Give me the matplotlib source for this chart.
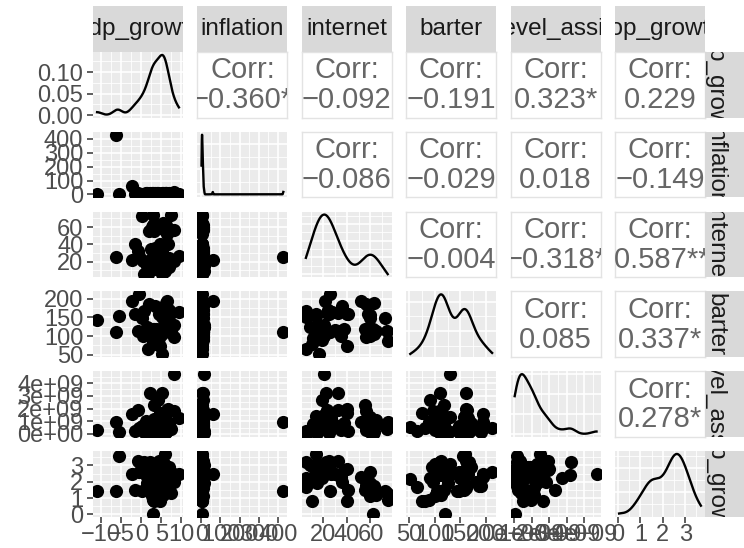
import numpy as np
import matplotlib
matplotlib.use("Agg")
import matplotlib.pyplot as plt
from matplotlib.ticker import MaxNLocator

plt.rcParams['font.family'] = ['Liberation Sans', 'DejaVu Sans']

nan = np.nan
var_names = ["gdp_growth", "inflation", "internet", "barter", "devel_assist", "pop_growth"]

gdp_growth = [-11.0, -6.2, -5.5, -2.4, 3.0, 8.3, 2.2, 5.1, 5.9, -0.8, 9.4, 0.1, 3.0, 6.3, 6.5,
              8.3, 5.1, -0.5, 4.5, 5.2, 3.8, 6.0, 4.9, 2.5, 5.6, 7.0, 1.5, 1.6, 5.1, 4.0,
              6.8, 3.4, 4.6, 0.8, 5.4, 7.5, 2.0, 6.2, 4.2, 3.1, 5.8, 4.4, -1.6, 2.8,
              3.2, 5.3, 2.4, 5.5, 3.6, 6.4, 1.2, 5.7, 2.9, 0.5, 6.9, 3.3]
inflation = [1, 428, 2, 60, 5, 15, 8, 4, 6, 10, 5, 3, 2, 7, 3,
             9, 4, 3, 3, 8, 5, 12, 2, 6, 4, 9, 14, 3, 5, 7,
             2, 10, 4, 6, 3, 1, 5, 8, 11, 2, 6, 4, 5, 9,
             3, 6, 2, 8, 5, 4, 7, 3, 10, 2, 6, 4]
internet = [nan, 25.5, nan, 22, 62, 21, 22.5, 32.5, 14, 32.5, 27, 72.6, 74.5, 62.7, 52,
            56.6, 16.3, 26, 12, 18, 20, 9, 28, 35, 15, 24, 15, 6, 6, 30,
            40, 36, 40, 5.6, 65, 73.7, 56, 59.6, 19, 11, 38, 25, 41, 60,
            20, 22, 17, 58, 63, 23, 19, 60, 25, 21, 14, 55]
barter = [144, 111, 155, 195, 120, 130, 110, 161, 159, 113, 164, 148, 88, 190, 194,
          97, 52, 212, 95, 105, 120, 125, 165, 100, 130, 170, 125, 65, 150, 115,
          160, 180, 74, 167, 113, 113, 186, 148, 90, 80, 118, 160, 158, 100,
          108, 115, 118, 160, 105, 162, 112, 157, 110, 100, 155, 118]
devel_assist = [0.31e9, 0.97e9, 0.18e9, 1.6e9, 0.02e9, 4.7e9, 3.25e9, 3.2e9, 1.45e9, 1.9e9,
                1.23e9, 0.6e9, 0.94e9, 0.15e9, 0.94e9, 1.8e9, 0.57e9, 0.5e9, 0.8e9, 0.4e9,
                1.1e9, 0.2e9, 0.6e9, 0.3e9, 1.3e9, 0.9e9, 0.1e9, 0.25e9, 0.05e9, 0.7e9,
                2.0e9, 0.45e9, 1.64e9, 0.15e9, 1.1e9, 0.4e9, 0.3e9, 0.15e9, 2.7e9, 0.5e9,
                0.9e9, 0.35e9, 0.2e9, 0.6e9,
                1.2e9, 1.5e9, 0.8e9, 1.1e9, 0.7e9, 1.9e9, 1.0e9, 1.3e9, 0.05e9, 0.4e9,
                0.6e9, 2.3e9]
pop_growth = [1.42, 1.42, 3.57, 2.45, 0.05, 2.5, 3.2, 2.4, 3.7, 3.25, 2.5, 1.4, 0.9, 1.74, 2.3,
              2.0, 2.17, 2.6, 2.9, 2.8, 2.7, 3.0, 2.6, 2.3, 3.1, 2.9, 1.9, 1.7, 2.2, 2.5,
              2.8, 2.0, 0.8, 3.2, 1.2, 1.3, 1.74, 2.6, 2.2, 0.83, 2.7, 3.3, 1.5, 1.1,
              2.9, 3.0, 2.6, 1.6, 1.4, 2.7, 2.4, 1.9, 2.8, 3.1, 2.5, 1.5]

columns = [gdp_growth, inflation, internet, barter, devel_assist, pop_growth]

# axis breaks (tick labels) per variable
breaks = [[-10, -5, 0, 5, 10],
          [0, 100, 200, 300, 400],
          [20, 40, 60],
          [50, 100, 150, 200],
          [0, 1e9, 2e9, 3e9, 4e9],
          [0, 1, 2, 3]]
break_labels = [["\u221210", "\u22125", "0", "5", "10"],
                ["0", "100", "200", "300", "400"],
                ["20", "40", "60"],
                ["50", "100", "150", "200"],
                ["0e+00", "1e+09", "2e+09", "3e+09", "4e+09"],
                ["0", "1", "2", "3"]]

# correlation labels (upper triangle)
corr_labels = {(0, 1): "\u22120.360*", (0, 2): "\u22120.092", (0, 3): "\u22120.191",
               (0, 4): "0.323*", (0, 5): "0.229",
               (1, 2): "\u22120.086", (1, 3): "\u22120.029", (1, 4): "0.018", (1, 5): "\u22120.149",
               (2, 3): "\u22120.004", (2, 4): "\u22120.318*", (2, 5): "\u22120.587***",
               (3, 4): "0.085", (3, 5): "0.337*",
               (4, 5): "0.278*"}

W, H = 744, 548
fig = plt.figure(figsize=(W / 100, H / 100), dpi=100)

col_left = [93 + 104.4 * j for j in range(6)]
pw = 90
row_top = [52 + 79.8 * i for i in range(6)]
ph = 65.5

PANEL = '#EBEBEB'
STRIP = '#D9D9D9'
TICKC = '#333333'
LABC = '#4D4D4D'
TICK_FS = 17
STRIP_FS = 17.5
CORR_FS = 21


def rect(x, y, w, h):
    return [x / W, 1 - (y + h) / H, w / W, h / H]


def lims(a):
    a = a[~np.isnan(a)]
    lo, hi = a.min(), a.max()
    r = hi - lo
    return lo - 0.05 * r, hi + 0.05 * r


def kde(v):
    a = np.asarray(v, float)
    a = a[~np.isnan(a)]
    n = len(a)
    sd = a.std(ddof=1)
    q75, q25 = np.percentile(a, [75, 25])
    lo = min(sd, (q75 - q25) / 1.34)
    if lo <= 0:
        lo = sd
    bw = 0.9 * lo * n ** -0.2
    xs = np.linspace(a.min(), a.max(), 512)
    d = np.exp(-0.5 * ((xs[:, None] - a[None, :]) / bw) ** 2).sum(1) / (n * bw * np.sqrt(2 * np.pi))
    return xs, d


def minor_breaks(b, lim):
    b = list(b)
    step = b[1] - b[0]
    ext = np.arange(b[0] - step, b[-1] + step * 1.01, step / 2.0)
    out = []
    for v in ext:
        if lim[0] <= v <= lim[1] and not any(abs(v - m) < 1e-9 * max(1, abs(step)) for m in b):
            out.append(v)
    return out


def grid(ax, xb, xl, yb, yl):
    for v in minor_breaks(xb, xl):
        ax.axvline(v, color='white', lw=0.6, zorder=0.5)
    for v in minor_breaks(yb, yl):
        ax.axhline(v, color='white', lw=0.6, zorder=0.5)
    for v in xb:
        if xl[0] <= v <= xl[1]:
            ax.axvline(v, color='white', lw=1.2, zorder=0.6)
    for v in yb:
        if yl[0] <= v <= yl[1]:
            ax.axhline(v, color='white', lw=1.2, zorder=0.6)


data = [np.asarray(c, float) for c in columns]
xlims = [lims(a) for a in data]

for i in range(6):
    for j in range(6):
        ax = fig.add_axes(rect(col_left[j], row_top[i], pw, ph))
        for s in ax.spines.values():
            s.set_visible(False)
        ax.tick_params(which='both', length=0, labelleft=False, labelbottom=False)
        yb_show = None
        if i < j:
            ax.set_facecolor('white')
            for s in ax.spines.values():
                s.set_visible(True)
                s.set_color('#E3E3E3')
                s.set_linewidth(1.0)
            ax.set_xticks([])
            ax.set_yticks([])
            ax.text(0.5, 0.72, "Corr:", transform=ax.transAxes, ha='center', va='center',
                    fontsize=CORR_FS, color='#666666', clip_on=True)
            ax.text(0.5, 0.265, corr_labels[(i, j)], transform=ax.transAxes, ha='center',
                    va='center', fontsize=CORR_FS, color='#666666', clip_on=True)
        elif i == j:
            ax.set_facecolor(PANEL)
            xs, d = kde(data[j])
            ax.plot(xs, d, color='black', lw=1.7, zorder=3)
            xl = xlims[j]
            yl = (d.min() - 0.05 * (d.max() - d.min()), d.max() + 0.05 * (d.max() - d.min()))
            ax.set_xlim(xl)
            ax.set_ylim(yl)
            loc = MaxNLocator(nbins=4, steps=[1, 2, 2.5, 5, 10])
            yb = [v for v in loc.tick_values(yl[0], yl[1]) if yl[0] <= v <= yl[1]]
            grid(ax, breaks[j], xl, yb, yl)
            yb_show = yb
        else:
            ax.set_facecolor(PANEL)
            x = data[j]
            y = data[i]
            m = ~np.isnan(x) & ~np.isnan(y)
            ax.scatter(x[m], y[m], s=90, c='black', linewidths=0, zorder=3)
            ax.set_xlim(xlims[j])
            ax.set_ylim(xlims[i])
            grid(ax, breaks[j], xlims[j], breaks[i], xlims[i])
        if j == 0:
            if i == 0:
                ax.set_yticks(yb_show)
                ax.set_yticklabels(["%.2f" % v for v in yb_show])
            else:
                ax.set_yticks(breaks[i])
                ax.set_yticklabels(break_labels[i])
            ax.tick_params(axis='y', which='major', left=True, labelleft=True, length=4.5,
                           width=1.1, color=TICKC, labelcolor=LABC, labelsize=TICK_FS, pad=2.5)
        if i == 5:
            ax.set_xticks(breaks[j])
            ax.set_xticklabels(break_labels[j])
            ax.tick_params(axis='x', which='major', bottom=True, labelbottom=True, length=4.5,
                           width=1.1, color=TICKC, labelcolor=LABC, labelsize=TICK_FS, pad=1.0)

# top strips
for j in range(6):
    sa = fig.add_axes(rect(col_left[j], 6, pw, 46))
    sa.set_facecolor(STRIP)
    sa.set_xticks([]); sa.set_yticks([])
    for s in sa.spines.values():
        s.set_visible(False)
    sa.text(0.5, 0.5, var_names[j], transform=sa.transAxes, ha='center', va='center',
            fontsize=STRIP_FS, color='#1A1A1A', clip_on=True)

# right strips
for i in range(6):
    sa = fig.add_axes(rect(705, row_top[i], 46, ph))
    sa.set_facecolor(STRIP)
    sa.set_xticks([]); sa.set_yticks([])
    for s in sa.spines.values():
        s.set_visible(False)
    sa.text(10 / 46, 0.5, var_names[i], transform=sa.transAxes, ha='center', va='center',
            rotation=-90, fontsize=STRIP_FS, color='#1A1A1A', clip_on=True)

fig.savefig("out.png", dpi=100)
